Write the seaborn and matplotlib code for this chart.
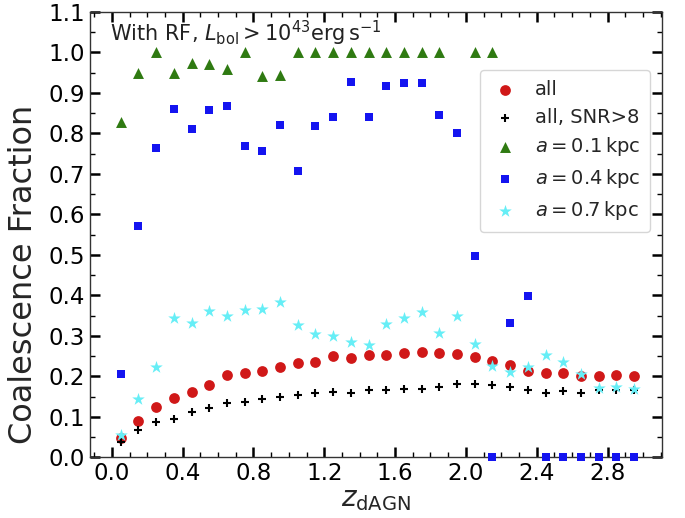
import numpy as np
import pandas as pd
import matplotlib
matplotlib.use("Agg")
import matplotlib.pyplot as plt
import seaborn as sns
from matplotlib.ticker import MultipleLocator

# bin centres
z_bins = [0.05, 0.15, 0.25, 0.35, 0.45, 0.55, 0.65, 0.75, 0.85, 0.95,
          1.05, 1.15, 1.25, 1.35, 1.45, 1.55, 1.65, 1.75, 1.85, 1.95,
          2.05, 2.15, 2.25, 2.35, 2.45, 2.55, 2.65, 2.75, 2.85, 2.95]

frac_all = [0.049, 0.090, 0.124, 0.147, 0.161, 0.178, 0.204, 0.209, 0.213, 0.224,
            0.232, 0.236, 0.250, 0.246, 0.252, 0.252, 0.257, 0.261, 0.258, 0.255,
            0.247, 0.239, 0.228, 0.213, 0.208, 0.208, 0.201, 0.201, 0.204, 0.201]

frac_snr8 = [0.037, 0.067, 0.088, 0.096, 0.111, 0.123, 0.134, 0.138, 0.143, 0.148,
             0.154, 0.160, 0.161, 0.160, 0.166, 0.166, 0.169, 0.170, 0.174, 0.182,
             0.180, 0.178, 0.173, 0.166, 0.160, 0.163, 0.158, 0.166, 0.166, 0.166]

frac_a01 = [0.829, 0.950, 1.000, 0.950, 0.974, 0.972, 0.959, 1.000, 0.941, 0.943,
            1.000, 1.000, 1.000, 1.000, 1.000, 1.000, 1.000, 1.000, 1.000, np.nan,
            1.000, 1.000, np.nan, np.nan, np.nan, np.nan, np.nan, np.nan, np.nan, np.nan]

frac_a04 = [0.206, 0.571, 0.764, 0.860, 0.810, 0.858, 0.867, 0.769, 0.756, 0.820,
            0.708, 0.818, 0.841, 0.927, 0.841, 0.917, 0.925, 0.925, 0.845, 0.800,
            0.497, 0.000, 0.331, 0.399, 0.000, 0.000, 0.000, 0.000, 0.000, 0.000]

frac_a07 = [0.055, 0.143, 0.222, 0.344, 0.332, 0.361, 0.350, 0.364, 0.367, 0.384,
            0.328, 0.305, 0.299, 0.285, 0.277, 0.329, 0.344, 0.358, 0.308, 0.348,
            0.281, 0.226, 0.212, 0.222, 0.254, 0.235, 0.205, 0.172, 0.173, 0.170]

x_ticks = [0.0, 0.4, 0.8, 1.2, 1.6, 2.0, 2.4, 2.8]
y_ticks = [0.0, 0.1, 0.2, 0.3, 0.4, 0.5, 0.6, 0.7, 0.8, 0.9, 1.0, 1.1]

sns.set_style("white")
plt.rcParams['font.family'] = ['DejaVu Sans']
plt.rcParams['mathtext.fontset'] = 'dejavusans'

fig = plt.figure(figsize=(6.85, 5.18), dpi=100)
ax = fig.add_axes([0.131, 0.117, 0.836, 0.860])

series = [
    (frac_all, "all", "o", "#d01818", 60, None),
    (frac_snr8, "all, SNR>8", "+", "black", 40, 1.5),
    (frac_a01, r"$a = 0.1\,\mathrm{kpc}$", "^", "#2f7a12", 62, None),
    (frac_a04, r"$a = 0.4\,\mathrm{kpc}$", "s", "#1414f0", 40, None),
    (frac_a07, r"$a = 0.7\,\mathrm{kpc}$", "*", "#66eef6", 90, None),
]

for vals, lab, mk, col, sz, lw in series:
    df = pd.DataFrame({"z": z_bins, "f": vals}).dropna()
    kw = dict(linewidth=lw) if lw else dict(linewidth=0)
    sns.scatterplot(data=df, x="z", y="f", ax=ax, marker=mk, color=col,
                    s=sz, label=lab, clip_on=False, zorder=3, **kw)

ax.set_xlim(-0.125, 3.11)
ax.set_ylim(0.0, 1.1)
ax.set_xticks(x_ticks)
ax.set_xticklabels([f"{t:.1f}" for t in x_ticks])
ax.set_yticks(y_ticks)
ax.set_yticklabels([f"{t:.1f}" for t in y_ticks])
ax.xaxis.set_minor_locator(MultipleLocator(0.1))
ax.yaxis.set_minor_locator(MultipleLocator(0.05))
ax.tick_params(which="both", direction="in", top=True, right=True,
               bottom=True, left=True, colors="black")
ax.tick_params(which="major", length=7, width=1.8, labelsize=16.5)
ax.tick_params(which="minor", length=3.5, width=1.0)
for sp in ax.spines.values():
    sp.set_color("#333333")
    sp.set_linewidth(1.0)

ax.set_xlabel(r"$z_{\rm dAGN}$", fontsize=20, labelpad=0)
ax.set_ylabel("Coalescence Fraction", fontsize=23)
ax.yaxis.set_label_coords(-0.088, 0.41)

ax.text(0.035, 0.985, r"With RF, $L_{\rm bol} > 10^{43}{\rm erg\,s^{-1}}$",
        transform=ax.transAxes, fontsize=15, ha="left", va="top", color="#222222")

leg = ax.legend(loc="upper right", bbox_to_anchor=(0.978, 0.869),
                borderaxespad=0, fontsize=14, frameon=True, fancybox=True,
                handletextpad=0.8, labelspacing=0.45, borderpad=0.5,
                handlelength=1.5, markerscale=1.0)
leg.get_frame().set_edgecolor("#cccccc")
leg.get_frame().set_linewidth(1.0)

fig.savefig("out.png", dpi=100)
